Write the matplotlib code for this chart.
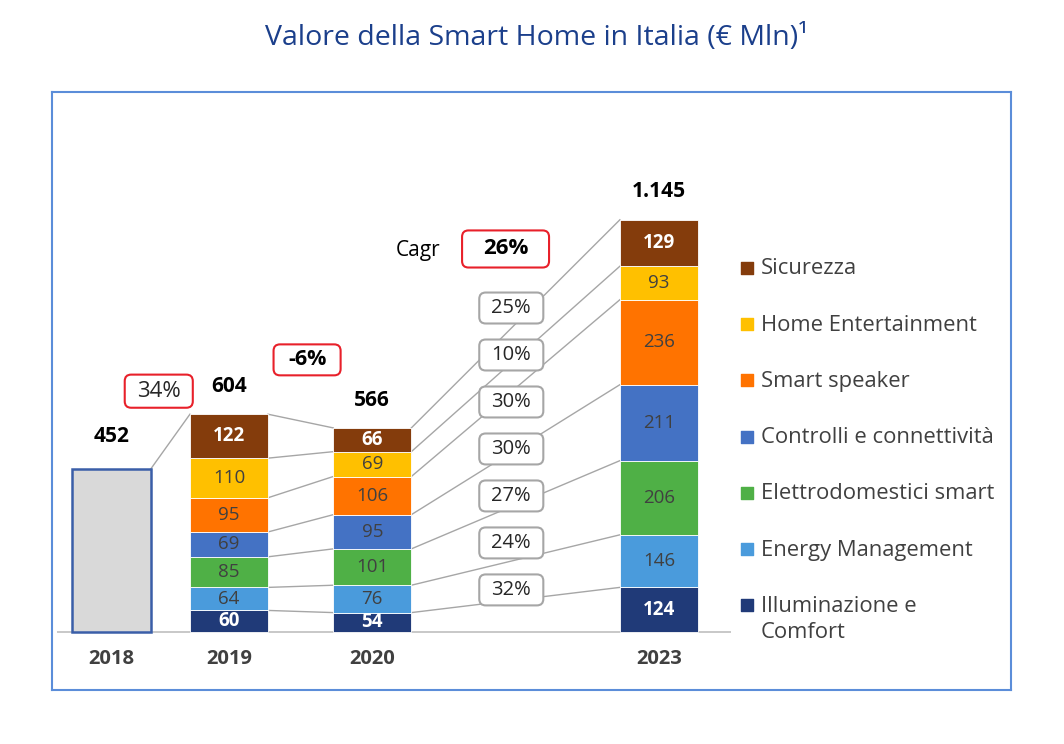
import numpy as np
import matplotlib.pyplot as plt
from matplotlib.patches import FancyBboxPatch

plt.rcParams['font.family'] = ['Open Sans', 'DejaVu Sans']

# data
years = ['2018', '2019', '2020', '2023']
totals = [452, 604, 566, 1145]
total_labels = ['452', '604', '566', '1.145']
categories = ['Illuminazione e\nComfort', 'Energy Management', 'Elettrodomestici smart',
              'Controlli e connettività', 'Smart speaker', 'Home Entertainment', 'Sicurezza']
colors = ['#203a78', '#4a9bdc', '#4fb046', '#4472c4', '#ff7300', '#ffc000', '#843c0c']
# per category, bottom to top
v2019 = [60, 64, 85, 69, 95, 110, 122]
v2020 = [54, 76, 101, 95, 106, 69, 66]
v2023 = [124, 146, 206, 211, 236, 93, 129]
cagr_labels = ['32%', '24%', '27%', '30%', '30%', '10%', '25%']
growth_labels = ['34%', '-6%']
cagr_total = '26%'

# layout
xpos = [0.18, 1, 2, 4]
width = 0.545
aspect = 398  # y units per x unit on screen
dark = '#404040'
line_col = '#a6a6a6'

fig = plt.figure(figsize=(10.64, 7.44), dpi=100)
ax = fig.add_axes([52/1064, 1-690/744, 959/1064, 598/744])
ax.set_xlim(-0.235, 6.457)
ax.set_ylim(-161, 1500)
ax.set_xticks([])
ax.set_yticks([])
for s in ax.spines.values():
    s.set_color('#5b8dd9')
    s.set_linewidth(1.5)

ax.hlines(0, -0.2, 4.5, color='#bfbfbf', lw=1.2, zorder=1)

# 2018 total bar
ax.bar(xpos[0], totals[0], width=width, color='#d9d9d9', edgecolor='#3a5ea8', lw=1.8, zorder=3)

stacks = [v2019, v2020, v2023]
for j, vals in enumerate(stacks):
    x = xpos[j + 1]
    bottom = 0
    for i, v in enumerate(vals):
        ax.bar(x, v, bottom=bottom, width=width, color=colors[i], edgecolor='white', lw=0.6, zorder=3)
        white = i in (0, 6)
        ax.text(x, bottom + v / 2, str(v), ha='center', va='center', fontsize=13.5,
                color='white' if white else dark, fontweight='bold' if white else 'normal', zorder=4)
        bottom += v

# connecting lines
ax.plot([xpos[0] + width/2, xpos[1] - width/2], [totals[0], sum(v2019)], color=line_col, lw=1, zorder=2)
for a, b, va, vb in [(1, 2, v2019, v2020), (2, 3, v2020, v2023)]:
    ca, cb = np.cumsum(va), np.cumsum(vb)
    for k in range(len(ca)):
        ax.plot([xpos[a] + width/2, xpos[b] - width/2], [ca[k], cb[k]], color=line_col, lw=1, zorder=2)

# totals and year labels
for x, t, lab, yr in zip(xpos, totals, total_labels, years):
    off = 92 if t == totals[0] else 78
    ax.text(x, t + off, lab, ha='center', va='center', fontsize=15, fontweight='bold', color='black')
    ax.text(x, -75, yr, ha='center', va='center', fontsize=14.5, fontweight='bold', color=dark)


def label_box(xc, yc, w, h, text, ec, bold, fs):
    p = FancyBboxPatch((xc - w/2, yc - h/2), w, h, boxstyle='round,pad=0,rounding_size=0.045',
                       mutation_aspect=aspect, facecolor='white', edgecolor=ec, lw=1.5, zorder=5)
    ax.add_patch(p)
    ax.text(xc, yc, text, ha='center', va='center', fontsize=fs, color='black' if bold else '#262626',
            fontweight='bold' if bold else 'normal', zorder=6)


# CAGR boxes per category
for i, lab in enumerate(cagr_labels):
    label_box(2.97, 117 + i * 130.5, 0.447, 86, lab, '#a6a6a6', False, 14.5)

label_box(0.51, 669, 0.475, 92, growth_labels[0], '#e8202a', False, 16)
label_box(1.545, 756, 0.468, 86, growth_labels[1], '#e8202a', True, 15.5)
label_box(2.93, 1064, 0.607, 103, cagr_total, '#e8202a', True, 16)
ax.text(2.32, 1061, 'Cagr', ha='center', va='center', fontsize=15, color='black')

# legend
for i, (cat, c) in enumerate(zip(categories[::-1], colors[::-1])):
    y = 0.706 - i * 0.0941
    ax.scatter(0.725, y, marker='s', s=70, color=c, transform=ax.transAxes, zorder=5)
    ax.text(0.739, y + 0.016, cat, ha='left', va='top', fontsize=15.8, color=dark,
            transform=ax.transAxes, linespacing=1.35)

fig.text(537/1064, 1 - 38/744, 'Valore della Smart Home in Italia (€ Mln)¹', ha='center', va='center',
         fontsize=20.5, color='#1b3f8b')

fig.savefig('out.png', dpi=100)
